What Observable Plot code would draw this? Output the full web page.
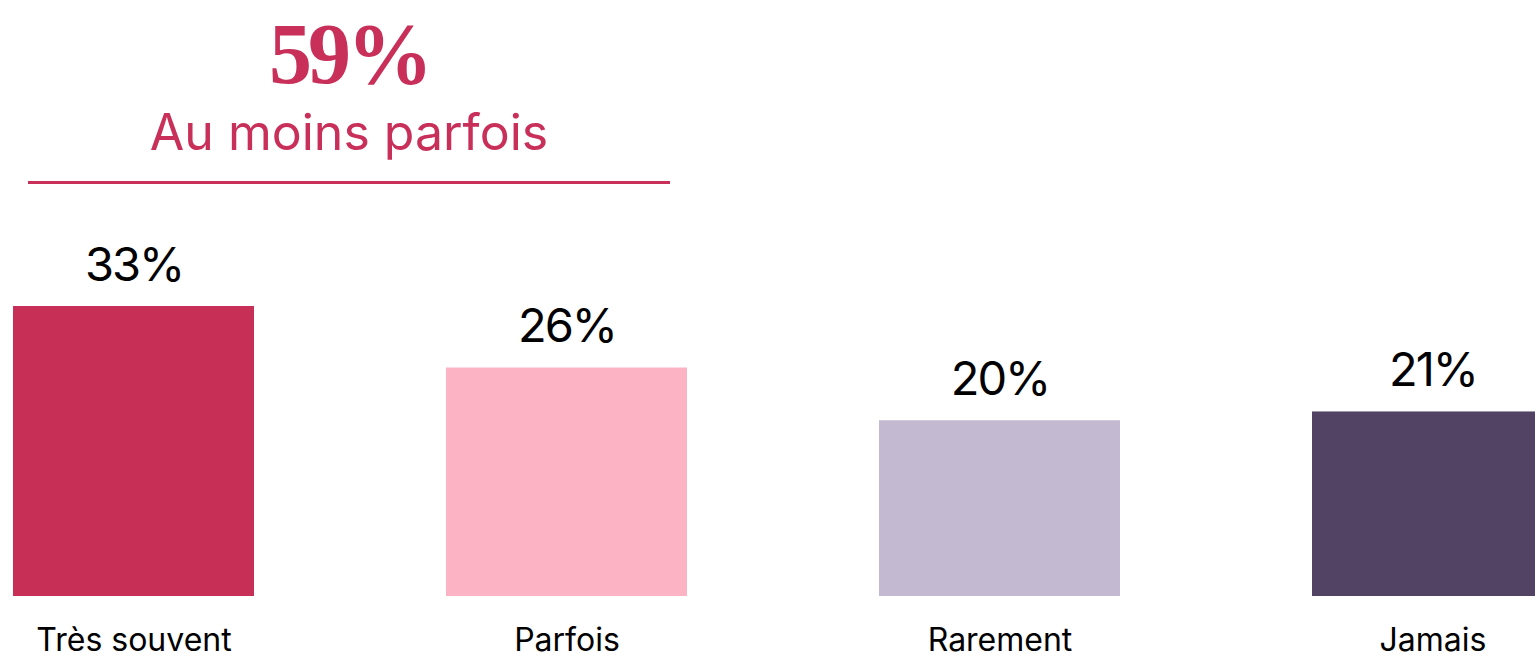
<!DOCTYPE html>
<html>
<head>
<meta charset="utf-8">
<script src="https://cdn.jsdelivr.net/npm/d3@7"></script>
<script src="https://cdn.jsdelivr.net/npm/@observablehq/plot@0.6"></script>
<style>
  html, body { margin: 0; padding: 0; background: #fff; overflow: hidden; }
  #hdr { position: relative; width: 1535px; height: 200px; }
  #big { position: absolute; left: 28px; width: 642px; top: 11px; text-align: center;
         font-family: "Liberation Serif", "DejaVu Serif", serif; font-size: 86px; font-weight: bold;
         letter-spacing: -4px; line-height: 1; color: #C8305A; }
  #sub { position: absolute; left: 28px; width: 642px; top: 107px; text-align: center;
         font-family: Inter, sans-serif; font-size: 50px; line-height: 1; color: #C8305A; }
  #rule { position: absolute; left: 28px; width: 642px; top: 181px; height: 3px; background: #C8305A; }
  #chart g[aria-label="text"] text { letter-spacing: -2px; }
</style>
</head>
<body>
<div id="hdr">
  <div id="big"></div>
  <div id="sub"></div>
  <div id="rule"></div>
</div>
<div id="chart"></div>
<script>
const headline = "59%";
const headlineLabel = "Au moins parfois";
const categories = ["Très souvent", "Parfois", "Rarement", "Jamais"];
const values = [33, 26, 20, 21];
const colors = ["#C82F57", "#FCB4C5", "#C3B9D1", "#524263"];

document.getElementById("big").textContent = headline;
document.getElementById("sub").textContent = headlineLabel;

const data = categories.map((c, i) => ({category: c, value: values[i]}));

const chart = Plot.plot({
  width: 1535,
  height: 458,
  marginTop: 106,
  marginBottom: 62,
  marginLeft: 0,
  marginRight: 0,
  style: {fontFamily: "Inter, sans-serif", background: "transparent"},
  x: {domain: categories, range: [12, 1553], paddingInner: 0.444, paddingOuter: 0},
  y: {domain: [0, 33], axis: null},
  color: {domain: categories, range: colors},
  marks: [
    Plot.barY(data, {x: "category", y: "value", fill: "category"}),
    Plot.text(data, {x: "category", y: "value", text: d => d.value + "%", lineAnchor: "bottom", dy: -26, fontSize: 47, fill: "#000"}),
    Plot.axisX({tickSize: 0, tickPadding: 32, fontSize: 32, color: "#000", label: null})
  ]
});
document.getElementById("chart").appendChild(chart);
</script>
</body>
</html>
